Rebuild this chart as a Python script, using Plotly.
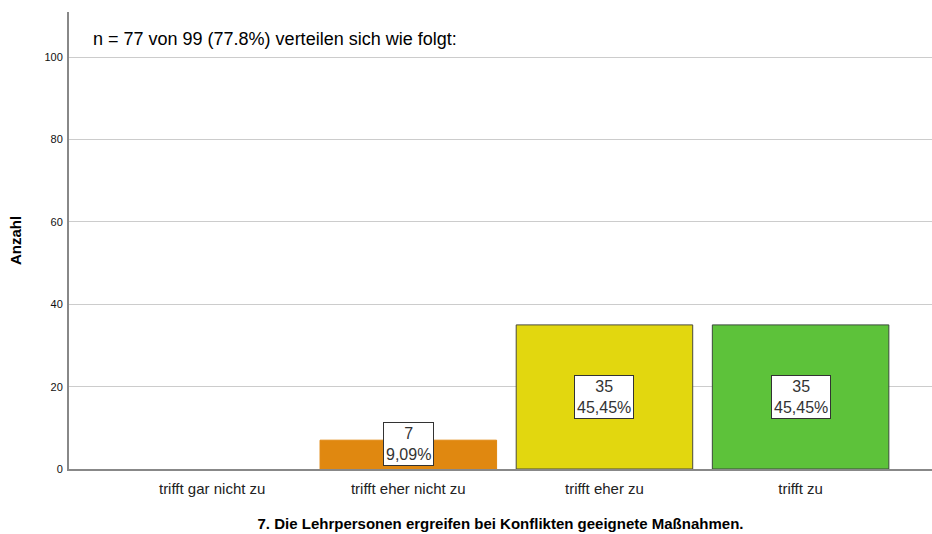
import plotly.graph_objects as go

categories = ["trifft gar nicht zu", "trifft eher nicht zu", "trifft eher zu", "trifft zu"]
counts = [0, 7, 35, 35]
percents = ["", "9,09%", "45,45%", "45,45%"]
colors = ["#E08810", "#E08810", "#E2D70F", "#5DC23A"]
outlines = ["#E08810", "#E08810", "#4A4A3A", "#3A4A3A"]
y_ticks = [0, 20, 40, 60, 80, 100]

xs = list(range(len(categories)))

fig = go.Figure()
fig.add_trace(go.Bar(
    x=xs, y=counts, width=0.9,
    marker=dict(color=colors, line=dict(color=outlines, width=[0 if c == 0 else 1 for c in counts])),
    hoverinfo="skip",
))

for x, c, p in zip(xs, counts, percents):
    if c == 0:
        continue
    if c < 15:
        y, anchor = 0, "bottom"
    else:
        y, anchor = c / 2, "middle"
    fig.add_annotation(
        x=x, y=y, yanchor=anchor, yshift=3 if anchor == "bottom" else 0,
        text=f"{c}<br>{p}", showarrow=False,
        font=dict(family="Liberation Sans, Arial", size=16, color="#333333"),
        bgcolor="white", bordercolor="#333333", borderwidth=1, borderpad=2,
    )

fig.add_annotation(
    xref="paper", yref="paper", x=0.025, y=0.94, xanchor="left", yanchor="middle",
    text="n = 77 von 99 (77.8%) verteilen sich wie folgt:", showarrow=False,
    font=dict(family="Liberation Sans, Arial", size=18, color="black"),
)

fig.update_layout(
    width=932, height=534,
    margin=dict(l=69, r=0, t=12, b=65),
    paper_bgcolor="white", plot_bgcolor="white",
    showlegend=False,
    font=dict(family="Liberation Sans, Arial", color="black"),
    xaxis=dict(
        tickmode="array", tickvals=xs, ticktext=categories,
        range=[-0.73, 3.67], showgrid=False, zeroline=False, automargin=False,
        showline=True, linecolor="#888888", linewidth=2,
        ticks="", ticklabelstandoff=5, tickfont=dict(size=15, color="#222222"),
        title=dict(text="<b>7. Die Lehrpersonen ergreifen bei Konflikten geeignete Maßnahmen.</b>",
                   font=dict(size=15, color="black"), standoff=22),
    ),
    yaxis=dict(
        tickmode="array", tickvals=y_ticks, range=[0, 111], automargin=False,
        showgrid=True, gridcolor="#CCCCCC", gridwidth=1, zeroline=False,
        showline=True, linecolor="#888888", linewidth=2,
        ticks="", ticklabelstandoff=2,
        tickfont=dict(size=11, color="#111111"),
        title=dict(text="<b>Anzahl</b>", font=dict(size=15, color="black"), standoff=19),
    ),
)

# drop the default page margin so the figure sits at the window's corner
fig.write_html("out.html", config={"displayModeBar": False},
               post_script="document.body.style.margin='0';")
